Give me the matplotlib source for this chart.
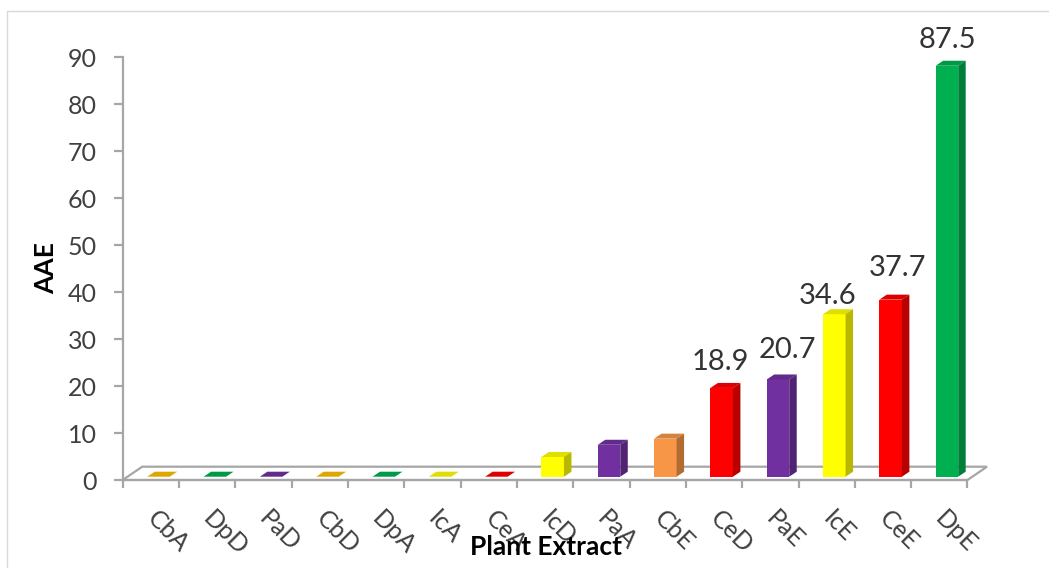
import numpy as np
import matplotlib
matplotlib.use("Agg")
import matplotlib.pyplot as plt
from matplotlib.patches import Polygon, Rectangle
from matplotlib.colors import to_rgb

plt.rcParams["font.family"] = ["Lato", "DejaVu Sans"]

# ---- data -------------------------------------------------------------
categories = ["CbA", "DpD", "PaD", "CbD", "DpA", "IcA", "CeA", "IcD",
              "PaA", "CbE", "CeD", "PaE", "IcE", "CeE", "DpE"]
aae = [0, 0, 0, 0, 0, 0, 0, 4.2, 6.8, 8.1, 18.9, 20.7, 34.6, 37.7, 87.5]
y_ticks = list(range(0, 100, 10))

# ---- style ------------------------------------------------------------
bar_colors = ["#FFC000", "#00B050", "#7030A0", "#FFC000", "#00B050",
              "#FFFF00", "#FF0000", "#FFFF00", "#7030A0", "#F79646",
              "#FF0000", "#7030A0", "#FFFF00", "#FF0000", "#00B050"]
axis_grey = "#A6A6A6"
text_grey = "#404040"
label_min = 10          # only bars at or above this get a value label
# per-label nudges (pixels) for the value labels
label_nudge = {10: (-1.5, 18), 11: (9, 21), 12: (-7, 10), 13: (7, 24), 14: (0, 18)}

W, H, DPI = 1049, 568, 100
fig = plt.figure(figsize=(W / DPI, H / DPI), dpi=DPI)
fig.patch.set_facecolor("white")

# outer chart frame (runs off the right and bottom edges)
fig.add_artist(Rectangle((7 / W, -0.2), 2.0, 1.2 - 11 / H, transform=fig.transFigure,
                         facecolor="none", edgecolor="#D9D9D9", lw=1.0))

# plot box in pixels
ax_l, ax_r, ax_t, ax_b = 122.7, 967.5, 57.3, 480.0
ax = fig.add_axes([ax_l / W, 1 - ax_b / H, (ax_r - ax_l) / W, (ax_b - ax_t) / H])
ax.set_facecolor("none")
n = len(categories)
ax.set_xlim(-0.5, n - 0.5)
ax.set_ylim(0, 90)

ppx = (ax_r - ax_l) / n      # pixels per category
ppy = (ax_b - ax_t) / 90.0   # pixels per unit


def px2x(p):
    return p / ppx


def px2y(p):
    return p / ppy


# floor of the 3-D plot
fdx, fdy = px2x(19.5), px2y(13.3)
floor = Polygon([(-0.5, 0), (n - 0.5, 0), (n - 0.5 + fdx, fdy), (-0.5 + fdx, fdy)],
                closed=True, facecolor="white", edgecolor=axis_grey, lw=1.6,
                clip_on=False, zorder=1)
ax.add_patch(floor)


def shade(c, k):
    r, g, b = to_rgb(c)
    return (r * k, g * k, b * k)


# bars: front face plus top and side faces
x = np.arange(n)
shift = px2x(7.6)
lift = px2y(3.3)
bw = px2x(22.5)
ddx, ddy = px2x(7.5), px2y(5.0)
x_front = x + shift
ax.bar(x_front, aae, width=bw, bottom=lift, color=bar_colors,
       edgecolor="none", zorder=3, clip_on=False)
for i, (v, c) in enumerate(zip(aae, bar_colors)):
    L = x_front[i] - bw / 2
    R = x_front[i] + bw / 2
    top = v + lift
    ax.add_patch(Polygon([(L, top), (R, top), (R + ddx, top + ddy), (L + ddx, top + ddy)],
                         closed=True, facecolor=shade(c, 0.87), edgecolor="none",
                         zorder=3, clip_on=False))
    if v > 0:
        ax.add_patch(Polygon([(R, lift), (R, top), (R + ddx, top + ddy), (R + ddx, lift + ddy)],
                             closed=True, facecolor=shade(c, 0.72), edgecolor="none",
                             zorder=3, clip_on=False))
    if v >= label_min:
        nx, ny = label_nudge.get(i, (0, 18))
        ax.annotate(f"{v:.1f}", xy=(x_front[i], top), xytext=(nx, ny),
                    textcoords="offset pixels", ha="center", va="baseline",
                    fontsize=21, color="#333333", zorder=5, annotation_clip=False)

# axes, ticks and labels
for s in ("top", "right"):
    ax.spines[s].set_visible(False)
for s in ("left", "bottom"):
    ax.spines[s].set_color(axis_grey)
    ax.spines[s].set_linewidth(1.6)

ax.set_yticks(y_ticks)
ax.tick_params(axis="y", direction="out", length=6.5, width=1.6, color=axis_grey,
               pad=12, labelsize=18, labelcolor=text_grey)

ax.set_xticks(np.arange(n + 1) - 0.5)
ax.set_xticklabels([])
ax.tick_params(axis="x", which="major", direction="out", length=5.8, width=1.6,
               color=axis_grey)
ax.set_xticks(x, labels=categories, minor=True)
ax.tick_params(axis="x", which="minor", length=0, pad=25, labelsize=18,
               labelcolor=text_grey)
for t in ax.get_xticklabels(minor=True):
    t.set_rotation(-45)
    t.set_ha("left")
    t.set_va("center")
    t.set_rotation_mode("anchor")

ax.set_ylabel("AAE", fontsize=19, fontweight="bold", color="black", va="center")
ax.yaxis.set_label_coords((46 - ax_l) / (ax_r - ax_l), (ax_b - 268) / (ax_b - ax_t))
ax.set_xlabel("Plant Extract", fontsize=19, fontweight="bold", color="black", va="center")
ax.xaxis.set_label_coords((546 - ax_l) / (ax_r - ax_l), (ax_b - 547) / (ax_b - ax_t))

fig.savefig("out.png", dpi=DPI, facecolor="white")
